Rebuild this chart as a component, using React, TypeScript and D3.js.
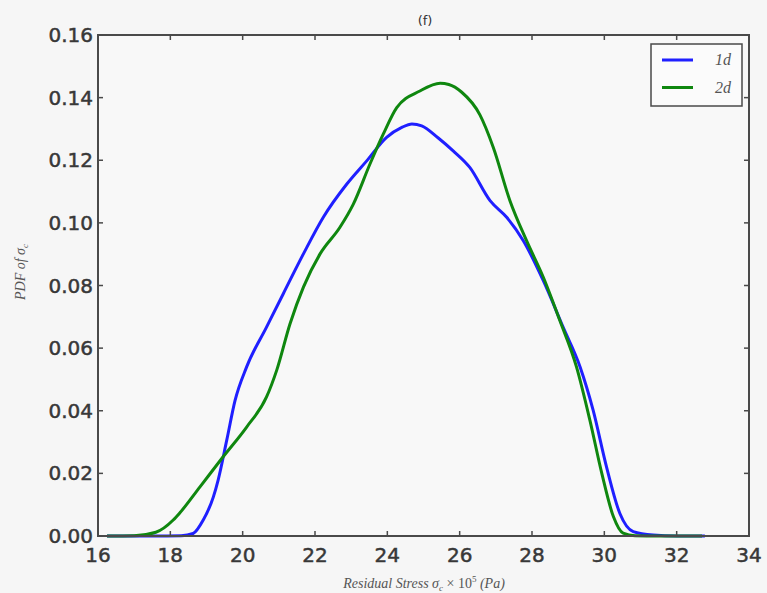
import React from "react";
import * as d3 from "d3";

const xTicks = [16, 18, 20, 22, 24, 26, 28, 30, 32, 34];
const yTicks = [0.0, 0.02, 0.04, 0.06, 0.08, 0.1, 0.12, 0.14, 0.16];

const x1d = [16.25, 17.5, 18.3, 18.63, 18.91, 19.19, 19.32, 19.56, 19.79, 20.11, 20.66, 21.12, 21.68, 22.23, 22.88, 23.43, 23.98, 24.4, 24.68, 24.95, 25.4, 25.82, 26.28, 26.84, 27.3, 27.76, 28.31, 28.86, 29.33, 29.69, 30.06, 30.43, 30.8, 31.35, 32.0, 32.78];
const y1d = [0, 0, 0.0001, 0.0008, 0.0051, 0.0125, 0.0178, 0.0306, 0.0433, 0.054, 0.0667, 0.0773, 0.0901, 0.1018, 0.1124, 0.1198, 0.1273, 0.1305, 0.1316, 0.131, 0.1272, 0.123, 0.1177, 0.1071, 0.1018, 0.0943, 0.0816, 0.0667, 0.054, 0.0402, 0.0221, 0.0072, 0.0014, 0.0003, 0, 0];

const x2d = [16.25, 17.0, 17.6, 18.08, 18.27, 18.82, 19.46, 20.11, 20.66, 20.94, 21.31, 21.68, 22.14, 22.69, 23.06, 23.52, 23.89, 24.26, 24.9, 25.46, 25.7, 26.05, 26.56, 26.93, 27.39, 27.85, 28.31, 28.77, 29.23, 29.6, 29.93, 30.25, 30.52, 30.85, 31.5, 32.7];
const y2d = [0, 0.0001, 0.0012, 0.0051, 0.0075, 0.0157, 0.0253, 0.0348, 0.0444, 0.0529, 0.0678, 0.0795, 0.0901, 0.0986, 0.106, 0.1188, 0.1284, 0.1368, 0.1421, 0.1446, 0.1442, 0.1418, 0.1345, 0.1241, 0.1071, 0.0943, 0.0827, 0.0688, 0.054, 0.037, 0.02, 0.0062, 0.0009, 0.0001, 0, 0];

const seriesNames = ["1d", "2d"];
const seriesColors = ["#1f1fff", "#0f870f"];

const W = 767;
const H = 593;
const left = 98;
const right = 749;
const top = 35;
const bottom = 536;

export default function App() {
  const x = d3.scaleLinear().domain([16, 34]).range([left, right]);
  const y = d3.scaleLinear().domain([0, 0.16]).range([bottom, top]);
  const line = d3
    .line<[number, number]>()
    .x((d) => x(d[0]))
    .y((d) => y(d[1]))
    .curve(d3.curveMonotoneX);
  const data = [
    x1d.map((v, i) => [v, y1d[i]] as [number, number]),
    x2d.map((v, i) => [v, y2d[i]] as [number, number]),
  ];
  const axisColor = "#4a4a4a";
  const tickFont = "DejaVu Sans, sans-serif";
  const tickFill = "#383838";
  return (
    <svg
      width={W}
      height={H}
      style={{ position: "absolute", left: 0, top: 0, background: "#f6f6f6" }}
    >
      <rect x={0} y={0} width={W} height={H} fill="#f6f6f6" />
      <rect x={left} y={top} width={right - left} height={bottom - top} fill="#f8f8f8" />
      <g>
        {data.map((d, i) => (
          <path
            key={i}
            d={line(d) || ""}
            fill="none"
            stroke={seriesColors[i]}
            strokeWidth={3}
            strokeLinejoin="round"
          />
        ))}
      </g>
      <rect
        x={left}
        y={top}
        width={right - left}
        height={bottom - top}
        fill="none"
        stroke={axisColor}
        strokeWidth={2}
      />
      {xTicks.map((t) => (
        <g key={"x" + t}>
          <line x1={x(t)} x2={x(t)} y1={bottom} y2={bottom - 5} stroke={axisColor} strokeWidth={1.5} />
          <line x1={x(t)} x2={x(t)} y1={top} y2={top + 5} stroke={axisColor} strokeWidth={1.5} />
          <text
            x={x(t)}
            y={bottom + 26}
            textAnchor="middle"
            fontFamily={tickFont}
            fontSize={20}
            fill={tickFill}
            stroke={tickFill}
            strokeWidth={0.5}
          >
            {t}
          </text>
        </g>
      ))}
      {yTicks.map((t) => (
        <g key={"y" + t}>
          <line x1={left} x2={left + 5} y1={y(t)} y2={y(t)} stroke={axisColor} strokeWidth={1.5} />
          <line x1={right} x2={right - 5} y1={y(t)} y2={y(t)} stroke={axisColor} strokeWidth={1.5} />
          <text
            x={left - 5}
            y={y(t) + 7}
            textAnchor="end"
            fontFamily={tickFont}
            fontSize={20}
            fill={tickFill}
            stroke={tickFill}
            strokeWidth={0.5}
          >
            {t.toFixed(2)}
          </text>
        </g>
      ))}
      <text x={425} y={25} textAnchor="middle" fontFamily={tickFont} fontSize={13} fill="#333">
        (f)
      </text>
      <text
        x={424}
        y={588}
        textAnchor="middle"
        fontFamily="Liberation Serif, DejaVu Serif, serif"
        fontStyle="italic"
        fontSize={14}
        fill="#555"
      >
        Residual Stress σ
        <tspan fontSize={9} dy={3}>c</tspan>
        <tspan dy={-3} fontStyle="normal">{"  × 10"}</tspan>
        <tspan fontSize={9} dy={-6} fontStyle="normal">5</tspan>
        <tspan dy={6}>{" (Pa)"}</tspan>
      </text>
      <text
        transform={`translate(25, 272) rotate(-90)`}
        textAnchor="middle"
        fontFamily="Liberation Serif, DejaVu Serif, serif"
        fontStyle="italic"
        fontSize={14}
        fill="#555"
      >
        PDF of σ
        <tspan fontSize={9} dy={3}>c</tspan>
      </text>
      <rect x={651} y={44} width={91} height={62} fill="#fbfbfb" stroke={axisColor} strokeWidth={1.5} />
      {seriesNames.map((n, i) => (
        <g key={n}>
          <line
            x1={662}
            x2={693}
            y1={60 + i * 27.5}
            y2={60 + i * 27.5}
            stroke={seriesColors[i]}
            strokeWidth={3}
          />
          <text
            x={731}
            y={60 + i * 27.5 + 5}
            textAnchor="end"
            fontFamily="Liberation Serif, DejaVu Serif, serif"
            fontStyle="italic"
            fontSize={16}
            fill="#555"
          >
            {n}
          </text>
        </g>
      ))}
    </svg>
  );
}
